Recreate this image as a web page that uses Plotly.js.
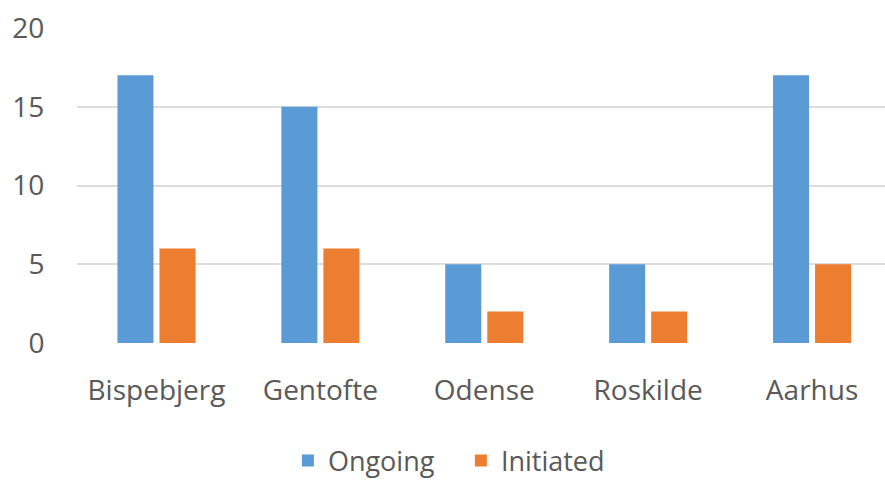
<!DOCTYPE html>
<html>
<head>
<meta charset="utf-8">
<script src="https://cdn.plot.ly/plotly-3.0.1.min.js"></script>
<style>html,body{margin:0;padding:0;background:#fff;}#chart{width:885px;height:480px;}</style>
</head>
<body>
<div id="chart"></div>
<script>
var categories = ["Bispebjerg", "Gentofte", "Odense", "Roskilde", "Aarhus"];
var ongoing = [17, 15, 5, 5, 17];
var initiated = [6, 6, 2, 2, 5];
var yTicks = [0, 5, 10, 15, 20];

var font = "Open Sans, Noto Sans, sans-serif";
var traces = [
  {type: "bar", name: "Ongoing", x: categories, y: ongoing, marker: {color: "#5B9BD5"}},
  {type: "bar", name: "Initiated", x: categories, y: initiated, marker: {color: "#ED7D31"}}
];
var layout = {
  width: 885, height: 480,
  margin: {l: 77, r: 0, t: 28, b: 137, autoexpand: false},
  paper_bgcolor: "#fff", plot_bgcolor: "#fff",
  barmode: "group", bargap: 0.487, bargroupgap: 0.143,
  font: {family: font, color: "#595959", size: 28},
  xaxis: {
    range: [-0.485, 4.445], showgrid: false, zeroline: false, showline: false,
    ticks: "outside", ticklen: 22, tickcolor: "rgba(0,0,0,0)",
    tickfont: {family: font, size: 28, color: "#595959"}, fixedrange: true
  },
  yaxis: {
    range: [0, 20], tickvals: yTicks, ticktext: yTicks.map(String),
    showgrid: true, gridcolor: "#DCDCDC", gridwidth: 2,
    zeroline: false, showline: false,
    ticks: "outside", ticklen: 26, tickcolor: "rgba(0,0,0,0)",
    tickfont: {family: font, size: 28, color: "#595959"}, fixedrange: true
  },
  showlegend: true,
  legend: {
    orientation: "h", x: 0.261, xanchor: "left", xref: "paper",
    y: -0.452, yanchor: "bottom",
    font: {family: font, size: 27, color: "#595959"},
    itemwidth: 30, entrywidth: 128, entrywidthmode: "pixels", tracegroupgap: 0
  }
};
Plotly.newPlot("chart", traces, layout, {displayModeBar: false, staticPlot: true});
</script>
</body>
</html>
